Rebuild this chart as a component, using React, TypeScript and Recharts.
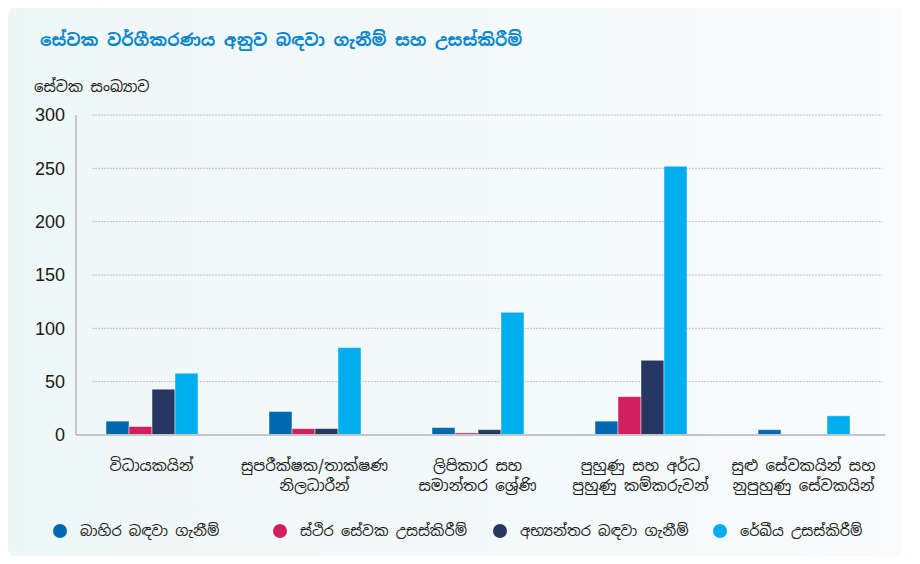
import React from "react";
import { BarChart, Bar, XAxis, YAxis, CartesianGrid } from "recharts";

const categories: string[][] = [
  ["විධායකයින්"],
  ["සුපරීක්ෂක/තාක්ෂණ", "නිලධාරීන්"],
  ["ලිපිකාර සහ", "සමාන්තර ශ්‍රේණි"],
  ["පුහුණු සහ අර්ධ", "පුහුණු කම්කරුවන්"],
  ["සුළු සේවකයින් සහ", "නුපුහුණු සේවකයින්"],
];
const externalRecruit = [13, 22, 7, 13, 5];
const permanentPromo = [8, 6, 2, 36, 0];
const internalRecruit = [43, 6, 5, 70, 0];
const linearPromo = [58, 82, 115, 252, 18];
const yTicks = [0, 50, 100, 150, 200, 250, 300];

const seriesNames = [
  "බාහිර බඳවා ගැනීම්",
  "ස්ථිර සේවක උසස්කිරීම්",
  "අභ්‍යන්තර බඳවා ගැනීම්",
  "රේඛීය උසස්කිරීම්",
];
const seriesKeys = ["ext", "perm", "int", "lin"];
const seriesColors = ["#0068b0", "#d21f60", "#273763", "#00aeef"];

const data = categories.map((c, i) => ({
  name: String(i),
  ext: externalRecruit[i],
  perm: permanentPromo[i],
  int: internalRecruit[i],
  lin: linearPromo[i],
}));

const SIN = "'Noto Sans Sinhala', 'Noto Sans', 'DejaVu Sans', sans-serif";

const XTick = (props: any) => {
  const { x, y, payload } = props;
  const lines = categories[Number(payload.value)] || [];
  return (
    <g transform={`translate(${x},${y})`}>
      {lines.map((l, i) => (
        <text
          key={i}
          x={0}
          y={28 + i * 20}
          textAnchor="middle"
          fontSize={15}
          fill="#1a1a1a"
          fontFamily={SIN}
        >
          {l}
        </text>
      ))}
    </g>
  );
};

const GridLine = (p: any) => (
  <line
    x1={p.x1 + 16}
    x2={p.x2 - 3}
    y1={p.y1}
    y2={p.y2}
    stroke="#bcbfc0"
    strokeWidth={1}
    strokeDasharray="2 1"
  />
);

export default function App() {
  return (
    <div
      style={{
        position: "relative",
        width: 920,
        height: 564,
        margin: -8,
        background: "#ffffff",
        overflow: "hidden",
      }}
    >
      <div
        style={{
          position: "absolute",
          left: 8,
          top: 2,
          width: 895,
          height: 561,
          borderRadius: 16,
          background: "linear-gradient(90deg, #eef7f7 0%, #f3f9fa 50%, #f9fbfc 100%)",
        }}
      />
      <div
        style={{
          position: "absolute",
          left: 40,
          top: 29,
          fontFamily: SIN,
          fontWeight: 700,
          fontSize: 17,
          color: "#0b86cc",
        }}
      >
        සේවක වර්ගීකරණය අනුව බඳවා ගැනීම් සහ උසස්කිරීම්
      </div>
      <div
        style={{
          position: "absolute",
          left: 34,
          top: 77,
          fontFamily: SIN,
          fontSize: 15,
          color: "#1a1a1a",
        }}
      >
        සේවක සංඛ්‍යාව
      </div>
      <div style={{ position: "absolute", left: 0, top: 0 }}>
        <BarChart
          width={920}
          height={564}
          data={data}
          margin={{ top: 115, right: 35, bottom: 0, left: 0 }}
          barGap={0}
          barSize={23}
        >
          <CartesianGrid vertical={false} horizontal={GridLine} />
          <XAxis
            dataKey="name"
            tick={<XTick />}
            tickLine={false}
            axisLine={{ stroke: "#c2c6c7", strokeWidth: 2 }}
            interval={0}
            height={129}
            padding={{ left: -6, right: 0 }}
          />
          <YAxis
            width={76}
            domain={[0, 300]}
            ticks={yTicks}
            tickLine={false}
            axisLine={{ stroke: "#9a9a9a", strokeWidth: 1 }}
            tick={{ fontSize: 18, fill: "#1a1a1a", fontFamily: "'Liberation Sans', Arial, sans-serif" }}
            tickMargin={5}
          />
          {seriesKeys.map((k, i) => (
            <Bar
              key={k}
              dataKey={k}
              fill={seriesColors[i]}
              stroke="rgba(255,255,255,0.45)"
              strokeWidth={1}
              isAnimationActive={false}
            />
          ))}
        </BarChart>
      </div>
      <div
        style={{
          position: "absolute",
          left: 50,
          top: 521,
          display: "flex",
          fontFamily: SIN,
          fontSize: 14.5,
          color: "#1a1a1a",
        }}
      >
        {seriesNames.map((n, i) => (
          <div
            key={n}
            style={{ width: 220, display: "flex", alignItems: "center" }}
          >
            <span
              style={{
                display: "inline-block",
                width: 14,
                height: 14,
                borderRadius: 7,
                background: seriesColors[i],
                marginLeft: 3,
                marginRight: 13,
              }}
            />
            <span>{n}</span>
          </div>
        ))}
      </div>
    </div>
  );
}
